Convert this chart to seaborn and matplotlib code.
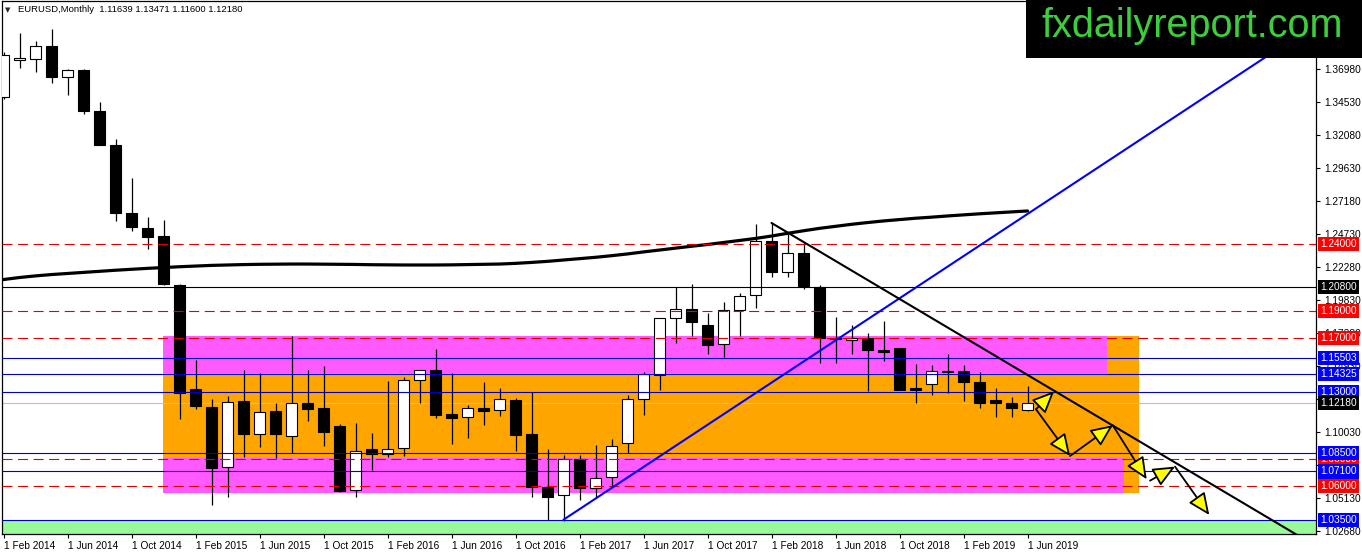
import numpy as np
import pandas as pd
import matplotlib
matplotlib.use("Agg")
import matplotlib.pyplot as plt
import matplotlib.transforms as mtransforms
from matplotlib.patches import Rectangle, FancyArrowPatch
import seaborn as sns

# ---------------- data ----------------
month_labels = ["1 Feb 2014", "1 Jun 2014", "1 Oct 2014", "1 Feb 2015", "1 Jun 2015",
                "1 Oct 2015", "1 Feb 2016", "1 Jun 2016", "1 Oct 2016", "1 Feb 2017",
                "1 Jun 2017", "1 Oct 2017", "1 Feb 2018", "1 Jun 2018", "1 Oct 2018",
                "1 Feb 2019", "1 Jun 2019"]

opens = [1.3487, 1.3764, 1.3774, 1.3870, 1.3635, 1.3692, 1.3389, 1.3131, 1.2630, 1.2520,
         1.2460, 1.2095, 1.1320, 1.1190, 1.0740, 1.1232, 1.0986, 1.1158, 1.0976, 1.1218,
         1.1180, 1.1045, 1.0574, 1.0880, 1.0838, 1.0882, 1.1386, 1.1466, 1.1136, 1.1112,
         1.1180, 1.1166, 1.1240, 1.0988, 1.0593, 1.0532, 1.0800, 1.0586, 1.0667, 1.0918,
         1.1250, 1.1426, 1.1847, 1.1914, 1.1797, 1.1654, 1.1909, 1.2020, 1.2421, 1.2193,
         1.2329, 1.2082, 1.1703, 1.1683, 1.1703, 1.1609, 1.1629, 1.1327, 1.1360, 1.1458,
         1.1454, 1.1377, 1.1238, 1.1221, 1.11639]
highs = [1.3825, 1.3967, 1.3906, 1.3993, 1.3700, 1.3700, 1.3450, 1.3180, 1.2887, 1.2600,
         1.2575, 1.2100, 1.1534, 1.1245, 1.1268, 1.1467, 1.1440, 1.1222, 1.1714, 1.1465,
         1.1495, 1.1060, 1.1070, 1.0992, 1.1380, 1.1412, 1.1466, 1.1622, 1.1440, 1.1205,
         1.1372, 1.1330, 1.1254, 1.1297, 1.0880, 1.0829, 1.0833, 1.0910, 1.0954, 1.1275,
         1.1450, 1.1850, 1.2080, 1.2100, 1.1884, 1.1966, 1.2033, 1.2547, 1.2555, 1.2476,
         1.2404, 1.2096, 1.1859, 1.1797, 1.1740, 1.1827, 1.1629, 1.1508, 1.1497, 1.1582,
         1.1501, 1.1451, 1.1327, 1.1265, 1.13471]
lows = [1.3477, 1.3706, 1.3673, 1.3591, 1.3503, 1.3367, 1.3131, 1.2570, 1.2499, 1.2358,
        1.2098, 1.1098, 1.1175, 1.0460, 1.0520, 1.0818, 1.0890, 1.0808, 1.0848, 1.1085,
        1.0900, 1.0558, 1.0520, 1.0718, 1.0818, 1.0828, 1.1220, 1.1104, 1.0915, 1.0955,
        1.1052, 1.1123, 1.0860, 1.0522, 1.0352, 1.0340, 1.0498, 1.0510, 1.0605, 1.0844,
        1.1126, 1.1315, 1.1665, 1.1716, 1.1582, 1.1562, 1.1716, 1.1921, 1.2155, 1.2156,
        1.2063, 1.1518, 1.1513, 1.1582, 1.1307, 1.1533, 1.1315, 1.1221, 1.1276, 1.1295,
        1.1233, 1.1184, 1.1117, 1.1112, 1.11600]
closes = [1.3802, 1.3776, 1.3870, 1.3635, 1.3692, 1.3389, 1.3131, 1.2630, 1.2527, 1.2452,
          1.2100, 1.1290, 1.1195, 1.0735, 1.1228, 1.0990, 1.1150, 1.0990, 1.1215, 1.1177,
          1.1004, 1.0567, 1.0865, 1.0838, 1.0876, 1.1386, 1.1460, 1.1132, 1.1110, 1.1180,
          1.1162, 1.1245, 1.0983, 1.0593, 1.0523, 1.0805, 1.0586, 1.0659, 1.0902, 1.1250,
          1.1434, 1.1847, 1.1914, 1.1822, 1.1649, 1.1909, 1.2013, 1.2421, 1.2193, 1.2329,
          1.2087, 1.1703, 1.1691, 1.1703, 1.1609, 1.1599, 1.1315, 1.1315, 1.1459, 1.1452,
          1.1377, 1.1221, 1.1221, 1.1179, 1.12180]
ma_values = [1.2135, 1.2150, 1.2162, 1.2172, 1.2180, 1.2188, 1.2196, 1.2204, 1.2211, 1.2218,
             1.2224, 1.2230, 1.2235, 1.2240, 1.2243, 1.2246, 1.2248, 1.2249, 1.2250, 1.2250,
             1.2249, 1.2248, 1.2247, 1.2245, 1.2244, 1.2243, 1.2243, 1.2243, 1.2244, 1.2246,
             1.2248, 1.2250, 1.2255, 1.2262, 1.2270, 1.2280, 1.2290, 1.2300, 1.2312, 1.2325,
             1.2340, 1.2354, 1.2368, 1.2382, 1.2395, 1.2410, 1.2425, 1.2440, 1.2458, 1.2478,
             1.2497, 1.2515, 1.2530, 1.2545, 1.2558, 1.2570, 1.2580, 1.2590, 1.2598, 1.2607,
             1.2615, 1.2623, 1.2630, 1.2637, 1.2644]

red_levels = [1.24, 1.19, 1.17, 1.08, 1.06]
blue_levels = [1.15503, 1.14325, 1.13, 1.085, 1.071, 1.035]
black_level = 1.208
current_price = 1.1218

price_ticks = [1.36980, 1.34530, 1.32080, 1.29630, 1.27180, 1.24730, 1.22280, 1.19830,
               1.17380, 1.14930, 1.12480, 1.10030, 1.07580, 1.05130, 1.02680]
# scale labels fully covered by the price boxes in the original
hidden_tick_labels = [1.12480, 1.07580]

# zones: (x_start, x_end, price_low, price_high)
orange_zone = (9.95, 70.95, 1.0548, 1.1715)
magenta_upper = (9.95, 68.95, 1.1443, 1.1715)
magenta_lower = (9.95, 70.0, 1.0548, 1.0808)
green_zone_top = 1.035

# trend lines: two anchor points (index, price)
blue_trend = [(35.0, 1.0352), (78.8, 1.3780)]
black_trend = [(48.0, 1.2555), (81.0, 1.0228)]

# forecast arrows path (index, price)
arrow_segments = [((64.53, 1.1172), (65.66, 1.1305)),
                  ((64.53, 1.1172), (66.66, 1.0825)),
                  ((66.66, 1.0825), (69.33, 1.1053)),
                  ((69.33, 1.1053), (71.45, 1.0652)),
                  ((71.66, 1.0642), (73.22, 1.0746)),
                  ((73.22, 1.0746), (75.36, 1.0387))]

# ---------------- style ----------------
sns.set_theme(style="white")
plt.rcParams['font.family'] = ['Liberation Sans', 'DejaVu Sans']

W, H = 1362, 554
fig = plt.figure(figsize=(W / 100, H / 100), dpi=100)
fig.patch.set_facecolor("white")
ax_l, ax_r, ax_t, ax_b = 2, 1316, 1, 534
ax = fig.add_axes([ax_l / W, (H - ax_b) / H, (ax_r - ax_l) / W, (ax_b - ax_t) / H])
ax.set_facecolor("white")

PX = 0.0007424  # price per pixel
y_top = 1.3698 + (69 - ax_t) * PX
y_bot = 1.3698 - (ax_b - 69) * PX
x_left = (ax_l - 3.5) / 16
x_right = (ax_r - 3.5) / 16
ax.set_xlim(x_left, x_right)
ax.set_ylim(y_bot, y_top)

idx = np.arange(len(opens))

# zones
ax.add_patch(Rectangle((x_left - 1, y_bot - 0.05), x_right - x_left + 2, green_zone_top - y_bot + 0.05,
                       facecolor="#98FB98", edgecolor="none", zorder=1))
for (x0, x1, p0, p1), col in [(orange_zone, "#FFA500"), (magenta_upper, "#FF5AFF"),
                              (magenta_lower, "#FF5AFF")]:
    ax.add_patch(Rectangle((x0, p0), x1 - x0, p1 - p0, facecolor=col, edgecolor="none", zorder=1))

# MA line
sns.lineplot(x=idx, y=ma_values, ax=ax, color="black", linewidth=2.3, zorder=3, legend=False)

# candles
bw = 0.66
for i in idx:
    o, h, l, c = opens[i], highs[i], lows[i], closes[i]
    ax.vlines(i, l, h, color="black", linewidth=0.9, zorder=4)
    bottom = min(o, c)
    height = max(abs(c - o), 0.0006)
    if c >= o:
        ax.bar(i, height, bottom=bottom, width=bw, color="white", edgecolor="black",
               linewidth=0.8, zorder=5)
    else:
        ax.bar(i, height, bottom=bottom, width=bw, color="black", edgecolor="black",
               linewidth=0.8, zorder=5)

# horizontal levels
for lv in red_levels:
    ax.axhline(lv, color="#E00000", linewidth=0.8, dashes=(9, 5), zorder=6)
for lv in blue_levels:
    ax.axhline(lv, color="#0000C8", linewidth=0.8, zorder=6)
ax.axhline(black_level, color="black", linewidth=0.8, zorder=6)
ax.axhline(current_price, color="#C0C0C0", linewidth=0.8, zorder=2)

# trend lines (extended as rays)
def ray(p1, p2, x_end):
    (x1, y1), (x2, y2) = p1, p2
    s = (y2 - y1) / (x2 - x1)
    return [x1, x_end], [y1, y1 + s * (x_end - x1)]

bx, by = ray(blue_trend[0], blue_trend[1], x_right + 1)
ax.plot(bx, by, color="#0000FF", linewidth=1.5, zorder=7)
kx, ky = ray(black_trend[0], black_trend[1], x_right + 1)
ax.plot(kx, ky, color="black", linewidth=1.5, zorder=7)

# arrows
for (a, b) in arrow_segments:
    arr = FancyArrowPatch(a, b, arrowstyle="-|>,head_length=1.35,head_width=0.6",
                          mutation_scale=10, facecolor="#FFFF00", edgecolor="black",
                          linewidth=1.3, shrinkA=0, shrinkB=0, zorder=8)
    ax.add_patch(arr)

# axes / ticks
for s in ax.spines.values():
    s.set_color("black")
    s.set_linewidth(0.9)
    s.set_visible(True)

ax.yaxis.tick_right()
ax.set_yticks(price_ticks)
ax.set_yticklabels(["" if p in hidden_tick_labels else f"{p:.5f}" for p in price_ticks])
ax.set_xticks(np.arange(0, 65, 4))
ax.set_xticklabels(month_labels)
for lab in ax.get_xticklabels():
    lab.set_horizontalalignment("left")
ax.tick_params(axis="y", which="both", right=True, left=False, labelright=True, labelleft=False,
               direction="out", length=3, width=0.8, pad=3, labelsize=7.3, colors="black")
ax.tick_params(axis="x", which="both", bottom=True, top=False, direction="out", length=3,
               width=0.8, pad=2, labelsize=7.3, colors="black")
ax.grid(False)
ax.set_xlabel("")
ax.set_ylabel("")

# price label boxes on right scale
trans = mtransforms.blended_transform_factory(fig.transFigure, ax.transData)
box_x = 1320 / W
boxes = [(lv, "#FF0000") for lv in red_levels] + [(black_level, "black")] + \
        [(lv, "#0000FF") for lv in blue_levels] + [(current_price, "black")]
for lv, col in boxes:
    ax.text(box_x, lv, f"{lv:.5f}", transform=trans, ha="left", va="center",
            fontsize=7.3, color="white", clip_on=False, zorder=20,
            bbox=dict(boxstyle="square,pad=0.2", facecolor=col, edgecolor="none"))

# header
fig.text(5 / W, (H - 10) / H, "▼", fontsize=5, family="DejaVu Sans", va="center", ha="left")
fig.text(18 / W, (H - 10) / H, "EURUSD,Monthly  1.11639 1.13471 1.11600 1.12180",
         fontsize=6.8, va="center", ha="left", color="black")

# watermark
fig.patches.append(Rectangle((1026 / W, (H - 58) / H), (W - 1026) / W, 58 / H,
                             transform=fig.transFigure, facecolor="black", edgecolor="none",
                             zorder=30))
fig.text(1192 / W, (H - 36.7) / H, "fxdailyreport.com", fontsize=28.5, color="#3CCF3C",
         ha="center", va="baseline", zorder=31, family="Liberation Sans")

fig.savefig("out.png", dpi=100)
